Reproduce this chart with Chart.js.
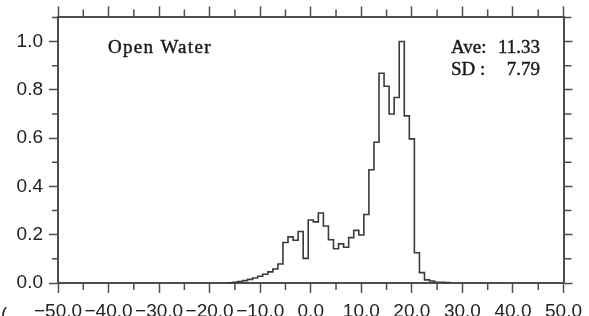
<!DOCTYPE html>
<html lang="en">
<head>
  <meta charset="UTF-8">
  <title>Open Water</title>
  <script src="https://cdn.jsdelivr.net/npm/chart.js"></script>
  <style>
    html, body {
      margin: 0;
      padding: 0;
      overflow: hidden;
      background: #fff;
    }
    canvas {
      display: block;
    }
  </style>
</head>
<body>
<canvas id="histChart" width="589" height="330"></canvas>

<script>
  // bin centres (width 1.0) and normalised frequency
  const binCenters = [-16, -15, -14, -13, -12, -11, -10, -9, -8, -7, -6, -5, -4, -3, -2, -1,
    0, 1, 2, 3, 4, 5, 6, 7, 8, 9, 10, 11, 12, 13, 14, 15, 16, 17, 18, 19, 20,
    21, 22, 23, 24, 25, 26, 27];
  const frequency = [0.001, 0.003, 0.006, 0.010, 0.015, 0.021, 0.028, 0.036, 0.046, 0.058, 0.079,
    0.168, 0.191, 0.177, 0.213, 0.102,
    0.261, 0.253, 0.290, 0.236, 0.179, 0.142, 0.162, 0.148, 0.188, 0.218, 0.199,
    0.284, 0.469, 0.583, 0.869, 0.815, 0.700, 0.768, 1.000, 0.692, 0.597,
    0.125, 0.043, 0.013, 0.008, 0.003, 0.003, 0.002];

  const xTickLabels = ['\u221250.0', '\u221240.0', '\u221230.0', '\u221220.0', '\u221210.0', '0.0',
    '10.0', '20.0', '30.0', '40.0', '50.0'];
  const yTickLabels = ['0.0', '0.2', '0.4', '0.6', '0.8', '1.0'];

  const regionName = 'Open Water';
  const statLabels = ['Ave:', 'SD :'];
  const statValues = ['11.33', '7.79'];

  const binWidth = 1.0;
  const axisColor = '#4d4d4d';
  const lineColor = '#3a3a3a';
  const tickFont = { family: '"Liberation Sans", Arial, sans-serif', size: 19 };

  // step outline: each bin starts at its left edge, closed back to zero at the end
  const outline = [{ x: binCenters[0] - binWidth / 2, y: 0 }];
  binCenters.forEach((c, i) => outline.push({ x: c - binWidth / 2, y: frequency[i] }));
  outline.push({ x: binCenters[binCenters.length - 1] + binWidth / 2, y: 0 });

  const fixSize = (w, h) => (scale) => {
    if (w !== null) scale.width = w;
    if (h !== null) scale.height = h;
  };

  // slightly heavier text, like the plotted fonts of the original
  function heavyText(ctx, text, x, y) {
    ctx.fillText(text, x, y);
    ctx.strokeText(text, x, y);
  }

  const minorTicks = {
    id: 'minorTicks',
    afterDraw(chart) {
      const ctx = chart.ctx;
      const a = chart.chartArea;
      const xs = chart.scales.x;
      const ys = chart.scales.y;
      ctx.save();
      ctx.strokeStyle = axisColor;
      ctx.lineWidth = 1.5;
      ctx.beginPath();
      for (let v = -45; v < 50; v += 10) {
        const px = xs.getPixelForValue(v);
        ctx.moveTo(px, a.bottom); ctx.lineTo(px, a.bottom + 7);
        ctx.moveTo(px, a.top); ctx.lineTo(px, a.top - 8);
      }
      for (let v = 0.1; v < 1.15; v += 0.2) {
        const py = ys.getPixelForValue(v);
        ctx.moveTo(a.left, py); ctx.lineTo(a.left - 6, py);
        ctx.moveTo(a.right, py); ctx.lineTo(a.right + 8, py);
      }
      ctx.stroke();

      // annotations
      ctx.fillStyle = '#1a1a1a';
      ctx.strokeStyle = '#1a1a1a';
      ctx.lineWidth = 0.45;
      ctx.textBaseline = 'alphabetic';
      ctx.font = '19px "Liberation Serif", serif';
      ctx.textAlign = 'left';
      ctx.letterSpacing = '1.3px';
      heavyText(ctx, regionName, a.left + 50, 53);
      ctx.letterSpacing = '0px';
      statLabels.forEach((t, i) => {
        ctx.textAlign = 'left';
        heavyText(ctx, t, 451, 53 + i * 21.7);
        ctx.textAlign = 'right';
        heavyText(ctx, statValues[i], 540, 53 + i * 21.7);
      });
      ctx.textAlign = 'left';
      ctx.fillStyle = '#222';
      ctx.font = '19px "Liberation Sans", Arial, sans-serif';
      ctx.fillText('(', 1, 320);
      ctx.restore();
    }
  };

  const ctx = document.getElementById('histChart').getContext('2d');
  const histChart = new Chart(ctx, {
    type: 'line',
    data: {
      datasets: [{
        data: outline,
        stepped: 'before',
        borderColor: lineColor,
        borderWidth: 1.6,
        pointRadius: 0,
        fill: false,
      }]
    },
    options: {
      responsive: false,
      animation: false,
      layout: { padding: 0 },
      scales: {
        x: {
          type: 'linear',
          position: 'bottom',
          min: -50,
          max: 50,
          afterFit: fixSize(null, 47),
          ticks: {
            stepSize: 10,
            autoSkip: false,
            maxRotation: 0,
            padding: 7,
            color: '#222',
            font: tickFont,
            callback: (v, i) => xTickLabels[i],
          },
          grid: { drawOnChartArea: false, tickLength: 10, tickWidth: 1.5, tickColor: axisColor },
          border: { color: axisColor, width: 2 },
        },
        x2: {
          type: 'linear',
          position: 'top',
          min: -50,
          max: 50,
          afterFit: fixSize(null, 17),
          ticks: { stepSize: 10, display: false },
          grid: { drawOnChartArea: false, tickLength: 11, tickWidth: 1.5, tickColor: axisColor },
          border: { color: axisColor, width: 2 },
        },
        y: {
          position: 'left',
          min: 0,
          max: 1.1,
          afterFit: fixSize(58, null),
          afterBuildTicks: (s) => { s.ticks = s.ticks.filter(t => t.value <= 1.0001); },
          ticks: {
            stepSize: 0.2,
            padding: 6,
            color: '#222',
            font: tickFont,
            callback: (v, i) => yTickLabels[i],
          },
          grid: { drawOnChartArea: false, tickLength: 9, tickWidth: 1.5, tickColor: axisColor },
          border: { color: axisColor, width: 2 },
        },
        y2: {
          position: 'right',
          min: 0,
          max: 1.1,
          afterFit: fixSize(19, null),
          afterBuildTicks: (s) => { s.ticks = s.ticks.filter(t => t.value <= 1.0001); },
          ticks: { stepSize: 0.2, display: false },
          grid: { drawOnChartArea: false, tickLength: 9, tickWidth: 1.5, tickColor: axisColor },
          border: { color: axisColor, width: 2 },
        }
      },
      plugins: {
        legend: { display: false },
        tooltip: { enabled: false },
      },
    },
    plugins: [minorTicks]
  });
</script>
</body>
</html>
